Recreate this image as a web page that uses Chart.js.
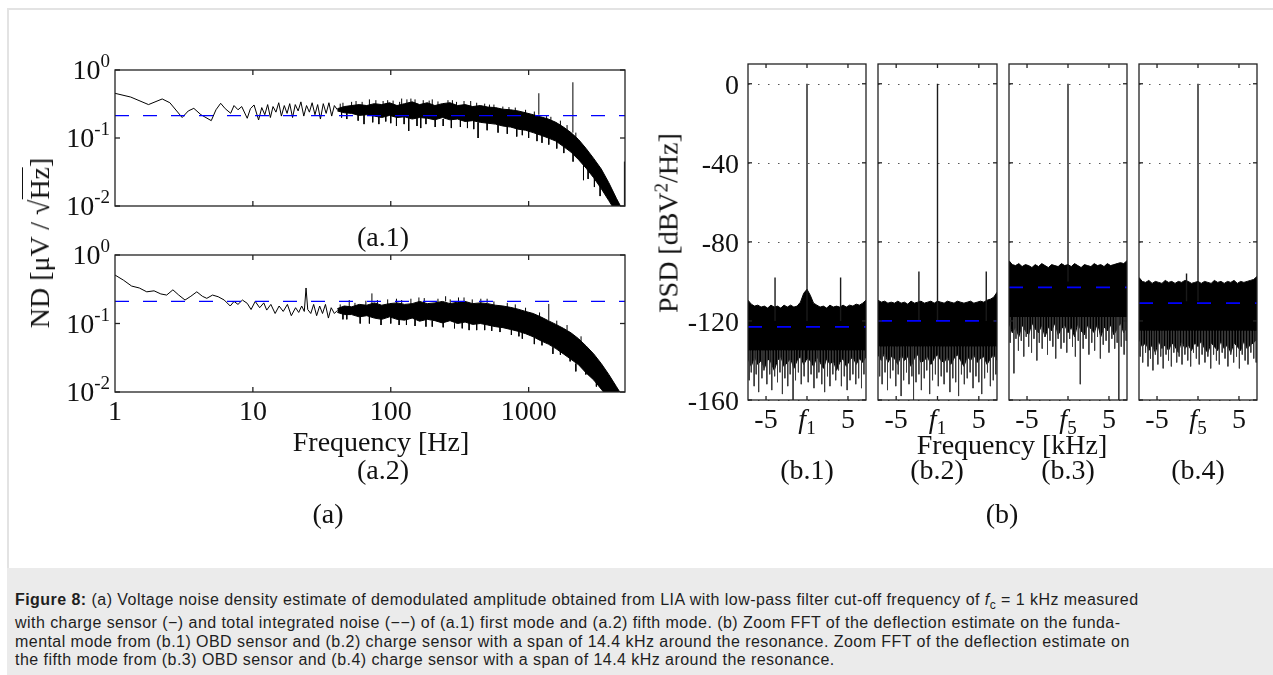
<!DOCTYPE html>
<html>
<head>
<meta charset="utf-8">
<title>Figure 8</title>
<script src="https://cdn.jsdelivr.net/npm/chart.js@4.4.1/dist/chart.umd.min.js"></script>
<style>
html, body { margin: 0; padding: 0; background: #fff; }
#page { position: relative; width: 1273px; height: 675px; overflow: hidden; font-family: 'Liberation Serif', 'Times New Roman', serif; color: #111; }
#frame { position: absolute; left: 7px; top: 8px; width: 1300px; height: 700px; border-left: 2px solid #e3e3e3; border-top: 2px solid #e3e3e3; }
canvas.plot { position: absolute; left: 0; top: 0; }
.lbl { position: absolute; font-size: 28px; white-space: nowrap; line-height: 1; transform: translate(-50%, -50%); }
.rot { transform: translate(-50%, -50%) rotate(-90deg); }
.ovl { border-top: 1.5px solid #111; padding-top: 1px; }
#caption { position: absolute; left: 7px; top: 568px; width: 1266px; height: 107px; background: #ebebeb;
  font-family: 'Liberation Sans', Arial, sans-serif; font-size: 16px; letter-spacing: 0.45px; line-height: 18.3px; color: #1e1e1e; }
#caption .txt { position: absolute; left: 8px; top: 23px; }
#caption .ln { white-space: nowrap; }
</style>
</head>
<body>
<div id="page">
  <div id="frame"></div>

  <canvas id="a1" class="plot" width="1273" height="675"></canvas>
  <canvas id="a2" class="plot" width="1273" height="675"></canvas>
  <canvas id="b1" class="plot" width="1273" height="675"></canvas>
  <canvas id="b2" class="plot" width="1273" height="675"></canvas>
  <canvas id="b3" class="plot" width="1273" height="675"></canvas>
  <canvas id="b4" class="plot" width="1273" height="675"></canvas>

  <div class="lbl rot" style="left:40px; top:243px;">ND [μV / √<span class="ovl">Hz</span>]</div>
  <div class="lbl" style="left:383px; top:237px;">(a.1)</div>
  <div class="lbl" style="left:381px; top:442px;">Frequency [Hz]</div>
  <div class="lbl" style="left:383px; top:470px;">(a.2)</div>
  <div class="lbl" style="left:328px; top:514px;">(a)</div>

  <div class="lbl rot" style="left:667px; top:223px;">PSD [dBV<sup style="font-size:19px; vertical-align:10px;">2</sup>/Hz]</div>
  <div class="lbl" style="left:1012px; top:445px;">Frequency [kHz]</div>
  <div class="lbl" style="left:807px; top:470px;">(b.1)</div>
  <div class="lbl" style="left:937px; top:470px;">(b.2)</div>
  <div class="lbl" style="left:1068px; top:470px;">(b.3)</div>
  <div class="lbl" style="left:1198px; top:470px;">(b.4)</div>
  <div class="lbl" style="left:1002px; top:514px;">(b)</div>

  <div id="caption">
    <div class="txt">
      <div class="ln"><b>Figure 8:</b> (a) Voltage noise density estimate of demodulated amplitude obtained from LIA with low-pass filter cut-off frequency of <i>f</i><sub style="font-size:12px;">c</sub> = 1 kHz measured</div>
      <div class="ln">with charge sensor (&minus;) and total integrated noise (&minus;&minus;) of (a.1) first mode and (a.2) fifth mode. (b) Zoom FFT of the deflection estimate on the funda-</div>
      <div class="ln">mental mode from (b.1) OBD sensor and (b.2) charge sensor with a span of 14.4 kHz around the resonance. Zoom FFT of the deflection estimate on</div>
      <div class="ln">the fifth mode from (b.3) OBD sensor and (b.4) charge sensor with a span of 14.4 kHz around the resonance.</div>
    </div>
  </div>
</div>

<script>
// ---------------- (a) noise density [uV/sqrt(Hz)] vs frequency [Hz] ----------------
const aMinHz = 1, aMaxHz = 5000;
const aTickHz = [10, 100, 1000];
const aLabelHz = [1, 10, 100, 1000];
const aTickND = [0.01, 0.1, 1];

// (a.1) first mode
const a1LowHz = [1, 1.3, 1.75, 2.2, 2.5, 3.07, 3.4, 3.73, 4.2, 4.99, 5.4, 5.84, 6.3, 6.9, 7.3, 7.8, 8.3, 9.1, 9.6, 10.2,
  11, 11.6, 12.2, 12.8, 13.4, 14, 14.7, 15.4, 16.1, 16.9, 17.7, 18.5, 19.4, 20.3, 21.3, 22.3, 23.4, 24.5, 25.7, 26.9,
  28.2, 29.5, 30.9, 32.4, 34, 35.6, 37.3, 39, 41];
const a1LowND = [0.454, 0.40, 0.31, 0.375, 0.33, 0.20, 0.25, 0.273, 0.22, 0.18, 0.26, 0.324, 0.27, 0.231, 0.30, 0.26, 0.29, 0.195, 0.27, 0.306,
  0.184, 0.28, 0.22, 0.31, 0.20, 0.29, 0.24, 0.33, 0.21, 0.30, 0.23, 0.32, 0.20, 0.31, 0.25, 0.34, 0.21, 0.30, 0.24, 0.33,
  0.22, 0.31, 0.19, 0.32, 0.23, 0.33, 0.21, 0.30, 0.26];
const aBandHz = [41, 46, 52, 59, 67, 76, 86, 98, 111, 126, 143, 162, 184, 209, 237, 269, 305, 346, 393, 446,
  506, 574, 651, 739, 838, 951, 1079, 1224, 1389, 1576, 1788, 2029, 2302, 2612, 2964, 3363, 3815, 4329, 4912, 5000];
const a1BandHi = [0.27, 0.29, 0.30, 0.31, 0.30, 0.32, 0.31, 0.33, 0.30, 0.32, 0.34, 0.31, 0.33, 0.30, 0.32, 0.33, 0.30, 0.31, 0.29, 0.30,
  0.285, 0.28, 0.265, 0.26, 0.25, 0.235, 0.22, 0.205, 0.19, 0.17, 0.145, 0.12, 0.095, 0.07, 0.05, 0.035, 0.022, 0.013, 0.008, 0.008];
const a1BandLo = [0.25, 0.235, 0.23, 0.215, 0.22, 0.21, 0.2, 0.215, 0.2, 0.205, 0.19, 0.2, 0.195, 0.185, 0.2, 0.185, 0.19, 0.175, 0.18, 0.17,
  0.165, 0.16, 0.15, 0.145, 0.135, 0.13, 0.12, 0.11, 0.10, 0.09, 0.075, 0.062, 0.048, 0.036, 0.026, 0.018, 0.012, 0.008, 0.006, 0.006];
// single-bin excursions of the noise trace (frequency, band side, tip)
const a1SpikeHz = [45, 52, 70, 95, 120, 150, 200, 280, 380, 560, 800, 1350, 1700, 2200,
  48, 64, 82, 110, 135, 165, 240, 320, 430, 600, 900, 1250, 1600, 2500, 3000,
  1186, 2094, 4950,
  43, 56, 62, 78, 88, 104, 116, 131, 140, 172, 190, 220, 260, 300, 340, 420, 480, 520, 650, 720, 950, 1100, 1450, 1900,
  44, 58, 74, 92, 100, 125, 155, 180, 210, 275, 360, 400, 500, 700, 820, 1000, 1150, 1400, 1800, 2100, 2700, 3300];
const a1SpikeFrom = [0.28, 0.29, 0.3, 0.3, 0.3, 0.32, 0.3, 0.3, 0.29, 0.27, 0.24, 0.18, 0.15, 0.1,
  0.24, 0.22, 0.21, 0.2, 0.2, 0.2, 0.19, 0.19, 0.17, 0.16, 0.14, 0.11, 0.09, 0.04, 0.026,
  0.22, 0.12, 0.01,
  0.26, 0.28, 0.28, 0.29, 0.28, 0.28, 0.28, 0.3, 0.31, 0.29, 0.29, 0.28, 0.3, 0.27, 0.28, 0.27, 0.26, 0.26, 0.24, 0.23, 0.21, 0.2, 0.165, 0.12,
  0.26, 0.24, 0.23, 0.23, 0.23, 0.22, 0.215, 0.215, 0.205, 0.205, 0.195, 0.2, 0.185, 0.165, 0.155, 0.145, 0.135, 0.12, 0.09, 0.07, 0.042, 0.025];
const a1SpikeTo = [0.33, 0.34, 0.37, 0.36, 0.38, 0.37, 0.37, 0.36, 0.35, 0.31, 0.28, 0.21, 0.18, 0.12,
  0.19, 0.16, 0.16, 0.15, 0.127, 0.14, 0.15, 0.145, 0.10, 0.12, 0.11, 0.085, 0.07, 0.024, 0.019,
  0.455, 0.66, 0.045,
  0.32, 0.35, 0.34, 0.36, 0.35, 0.355, 0.34, 0.37, 0.38, 0.36, 0.355, 0.345, 0.36, 0.34, 0.35, 0.33, 0.32, 0.31, 0.29, 0.285, 0.26, 0.245, 0.205, 0.155,
  0.2, 0.18, 0.17, 0.175, 0.165, 0.16, 0.15, 0.16, 0.145, 0.14, 0.14, 0.135, 0.13, 0.115, 0.105, 0.1, 0.09, 0.08, 0.06, 0.045, 0.025, 0.014];
const a1TotalNoise = 0.213;

// (a.2) fifth mode
const a2LowHz = [1, 1.15, 1.32, 1.5, 1.7, 1.92, 2.15, 2.37, 2.63, 2.9, 3.22, 3.55, 3.92, 4.3, 4.63, 5.1, 5.6, 6.2, 6.85, 7.3,
  7.8, 8.4, 9.1, 9.7, 10.4, 11.2, 12, 12.6, 13.5, 14.5, 15.5, 16.6, 17.8, 19, 20.4, 21.5, 22.6, 23.6, 24.3, 25,
  26.3, 27.6, 29, 30.5, 32, 33.6, 35.3, 37, 39, 41];
const a2LowND = [0.51, 0.43, 0.352, 0.33, 0.29, 0.30, 0.27, 0.26, 0.31, 0.26, 0.22, 0.25, 0.29, 0.25, 0.233, 0.26, 0.246, 0.22, 0.18, 0.21,
  0.19, 0.22, 0.197, 0.16, 0.21, 0.17, 0.20, 0.157, 0.19, 0.14, 0.18, 0.15, 0.19, 0.13, 0.17, 0.145, 0.18, 0.15, 0.33, 0.16,
  0.14, 0.19, 0.13, 0.18, 0.14, 0.19, 0.12, 0.17, 0.14, 0.155];
const a2BandHi = [0.165, 0.18, 0.175, 0.19, 0.185, 0.2, 0.185, 0.195, 0.2, 0.19, 0.195, 0.21, 0.195, 0.2, 0.21, 0.195, 0.205, 0.21, 0.195, 0.2,
  0.195, 0.185, 0.18, 0.172, 0.162, 0.15, 0.14, 0.125, 0.11, 0.097, 0.085, 0.073, 0.06, 0.047, 0.036, 0.026, 0.018, 0.012, 0.008, 0.008];
const a2BandLo = [0.145, 0.135, 0.135, 0.125, 0.13, 0.12, 0.115, 0.125, 0.115, 0.112, 0.12, 0.108, 0.115, 0.11, 0.102, 0.11, 0.1, 0.105, 0.097, 0.1,
  0.095, 0.09, 0.087, 0.082, 0.077, 0.071, 0.064, 0.056, 0.05, 0.043, 0.036, 0.03, 0.025, 0.019, 0.015, 0.011, 0.008, 0.006, 0.005, 0.005];
const a2SpikeHz = [50, 73, 110, 160, 250, 340, 500, 800, 1400, 1900,
  45, 60, 85, 130, 200, 290, 420, 620, 900, 1100, 1500, 2200,
  43, 55, 66, 80, 95, 120, 140, 175, 220, 270, 310, 390, 450, 560, 700, 950, 1200, 1600, 2400,
  48, 70, 100, 115, 150, 180, 240, 330, 370, 480, 540, 750, 850, 1250, 1700, 2000, 2600, 3100];
const a2SpikeFrom = [0.17, 0.19, 0.2, 0.2, 0.21, 0.21, 0.2, 0.16, 0.11, 0.08,
  0.14, 0.13, 0.12, 0.115, 0.11, 0.1, 0.1, 0.09, 0.075, 0.065, 0.045, 0.026,
  0.15, 0.155, 0.165, 0.17, 0.17, 0.17, 0.175, 0.18, 0.18, 0.175, 0.185, 0.175, 0.18, 0.165, 0.155, 0.13, 0.11, 0.08, 0.045,
  0.15, 0.14, 0.135, 0.13, 0.13, 0.125, 0.12, 0.115, 0.11, 0.11, 0.105, 0.095, 0.09, 0.065, 0.048, 0.038, 0.024, 0.016];
const a2SpikeTo = [0.22, 0.275, 0.23, 0.24, 0.25, 0.24, 0.23, 0.19, 0.193, 0.095,
  0.115, 0.1, 0.095, 0.095, 0.09, 0.085, 0.08, 0.075, 0.06, 0.05, 0.036, 0.02,
  0.19, 0.2, 0.215, 0.22, 0.225, 0.22, 0.23, 0.235, 0.23, 0.225, 0.24, 0.225, 0.23, 0.21, 0.2, 0.17, 0.145, 0.11, 0.065,
  0.115, 0.1, 0.1, 0.095, 0.092, 0.09, 0.088, 0.085, 0.08, 0.08, 0.078, 0.068, 0.065, 0.048, 0.035, 0.028, 0.018, 0.012];
const a2TotalNoise = 0.21;

// ---------------- (b) PSD [dBV^2/Hz] vs frequency offset [kHz] ----------------
const bMinKHz = -7.2, bMaxKHz = 7.2;
const bMinDb = -160, bMaxDb = 10;
const bTickKHz = [-5, 0, 5];
const bTickDb = [0, -40, -80, -120, -160];
const bKHz = [-7.2, -6.8, -6.4, -6.0, -5.6, -5.2, -4.8, -4.4, -4.0, -3.6, -3.2, -2.8, -2.4, -2.0, -1.6, -1.2, -0.8, -0.4, 0,
  0.4, 0.8, 1.2, 1.6, 2.0, 2.4, 2.8, 3.2, 3.6, 4.0, 4.4, 4.8, 5.2, 5.6, 6.0, 6.4, 6.8, 7.2];

// (b.1) OBD sensor, fundamental mode
const b1Hi = [-109.5, -111.5, -112.5, -112, -113, -112.5, -113.5, -112, -113, -112.5, -113.5, -112, -113, -112, -113, -112.5, -110.5, -106, -104,
  -107, -111, -112, -113, -112.5, -113.5, -112, -113, -112.5, -113, -112, -113, -112, -112.5, -111.5, -112, -111, -109.5];
const b1Lo = [-139, -143, -138, -142, -140, -144, -139, -141, -145, -140, -138, -143, -141, -139, -144, -140, -138, -142, -139,
  -140, -143, -138, -141, -144, -139, -142, -140, -145, -141, -139, -143, -140, -138, -142, -139, -141, -138];
const b1DipKHz = [-7.05, -6.8, -6.45, -6.2, -5.9, -5.5, -5.25, -4.9, -4.55, -4.3, -3.95, -3.6, -3.3, -3.0, -2.7, -2.35, -2.05, -1.7, -1.4, -1.05, -0.7, -0.35,
  0.15, 0.5, 0.85, 1.2, 1.45, 1.8, 2.15, 2.5, 2.8, 3.15, 3.5, 3.85, 4.2, 4.55, 4.9, 5.25, 5.6, 5.95, 6.3, 6.65, 6.95];
const b1DipDb = [-150, -146, -153, -147, -156, -149, -145, -152, -147, -155, -148, -151, -146, -157, -149, -153, -147, -160, -150, -146, -152, -148,
  -151, -147, -154, -149, -146, -152, -156, -148, -153, -147, -150, -145, -153, -148, -155, -150, -147, -152, -149, -154, -147];
const b1PeakKHz = [-3.9, 0, 4.1];
const b1PeakDb = [-98, 0, -98];
const b1Total = -123;

// (b.2) charge sensor, fundamental mode
const b2Hi = [-109.5, -110.5, -110, -111, -110.5, -111, -110, -111, -110.5, -111.5, -110, -111, -110.5, -110, -111, -110.5, -110, -111, -110,
  -110.5, -111, -110, -110.5, -111, -110, -110.5, -111, -110.5, -110, -111, -110.5, -110, -110.5, -109.5, -109, -108, -105.5];
const b2Lo = [-137, -140, -136, -141, -138, -139, -142, -137, -140, -138, -143, -139, -137, -141, -140, -138, -142, -139, -137,
  -140, -141, -138, -142, -139, -137, -140, -143, -138, -140, -137, -141, -139, -138, -142, -139, -137, -140];
const b2DipKHz = [-7.0, -6.7, -6.35, -6.05, -5.7, -5.4, -5.05, -4.75, -4.4, -4.1, -3.75, -3.45, -3.1, -2.9, -2.6, -2.25, -1.95, -1.6, -1.3, -0.95, -0.6, -0.25,
  0.1, 0.45, 0.8, 1.15, 1.5, 1.85, 2.2, 2.55, 2.9, 3.25, 3.6, 3.95, 4.3, 4.65, 5.0, 5.35, 5.7, 6.05, 6.4, 6.75, 7.05];
const b2DipDb = [-148, -152, -146, -155, -149, -145, -153, -147, -158, -150, -146, -152, -148, -160, -151, -147, -155, -149, -145, -157, -150, -147,
  -153, -148, -152, -146, -156, -149, -151, -158, -147, -152, -149, -146, -154, -148, -151, -157, -149, -146, -153, -150, -147];
const b2PeakKHz = [-2.25, 0, 5.9];
const b2PeakDb = [-95, 0, -95];
const b2Total = -120;

// (b.3) OBD sensor, fifth mode
const b3Hi = [-89.5, -91.5, -92, -91, -92.5, -91.5, -92, -93, -91.5, -92.5, -91, -92, -93, -91.5, -92, -92.5, -91, -92, -91.5,
  -92.5, -91, -92, -93, -91.5, -92, -92.5, -91, -92, -91.5, -92.5, -91, -92, -91.5, -91, -90.5, -91, -89.5];
const b3Lo = [-121, -126, -123, -128, -122, -125, -127, -121, -124, -126, -122, -128, -123, -125, -121, -127, -124, -122, -126,
  -123, -128, -121, -125, -127, -122, -124, -126, -121, -128, -123, -125, -122, -127, -124, -121, -126, -123];
const b3DipKHz = [-7.05, -6.6, -6.35, -6.05, -5.7, -5.4, -5.1, -4.8, -4.45, -4.15, -3.8, -3.5, -3.15, -2.85, -2.5, -2.2, -1.85, -1.5, -1.2, -0.85, -0.5, -0.15,
  0.2, 0.55, 0.9, 1.25, 1.5, 1.85, 2.2, 2.55, 2.9, 3.25, 3.6, 3.95, 4.3, 4.65, 5.0, 5.35, 5.7, 6.0, 6.2, 6.5, 6.85, 7.1];
const b3DipDb = [-131, -146.5, -129, -135, -130, -138, -128, -133, -136, -129, -140, -131, -134, -128, -137, -130, -133, -139, -129, -134, -131, -136,
  -129, -133, -138, -130, -152, -134, -129, -137, -131, -135, -128, -139, -132, -130, -136, -129, -134, -131, -160, -133, -137, -130];
const b3PeakKHz = [0];
const b3PeakDb = [0];
const b3Total = -103;

// (b.4) charge sensor, fifth mode
const b4Hi = [-98, -100, -100.5, -99.5, -101, -100, -100.5, -101, -99.5, -100.5, -100, -101, -100, -100.5, -99.5, -100, -101, -100.5, -100,
  -101, -100, -100.5, -101, -99.5, -100.5, -100, -101, -100, -100.5, -99.5, -101, -100, -100.5, -100, -99.5, -99, -97.5];
const b4Lo = [-129, -133, -131, -135, -132, -136, -130, -134, -132, -135, -131, -133, -136, -130, -134, -132, -135, -131, -133,
  -130, -134, -136, -131, -133, -135, -130, -134, -132, -136, -131, -133, -135, -130, -134, -132, -131, -129];
const b4DipKHz = [-7.05, -6.75, -6.4, -6.1, -5.8, -5.5, -5.2, -4.9, -4.55, -4.25, -3.9, -3.6, -3.25, -2.95, -2.6, -2.3, -1.95, -1.6, -1.25, -0.9, -0.55, -0.2,
  0.15, 0.5, 0.85, 1.2, 1.55, 1.9, 2.25, 2.6, 2.95, 3.3, 3.65, 4.0, 4.35, 4.7, 5.05, 5.4, 5.75, 6.1, 6.45, 6.8, 7.1];
const b4DipDb = [-138, -141, -136, -143, -139, -145, -137, -142, -138, -144, -137, -140, -143, -136, -141, -138, -142, -137, -140, -143, -136, -139,
  -142, -137, -141, -138, -144, -137, -140, -142, -136, -139, -143, -137, -141, -138, -144, -137, -140, -142, -136, -139, -141];
const b4PeakKHz = [-1.4, 0];
const b4PeakDb = [-96, 0];
const b4Total = -111;

// ---------------- drawing ----------------
const W = 1273, H = 675;
const SERIF = "'Liberation Serif', 'Times New Roman', serif";
const INK = '#000';
const BLUE = '#0000ff';

function pairs(xs, ys) {
    return xs.map((x, i) => ({ x, y: ys[i] }));
}

// vertical segments, broken by null points
function seg(xs, from, to) {
    const pts = [];
    xs.forEach((x, i) => {
        const f = Array.isArray(from) ? from[i] : from;
        pts.push({ x, y: f }, { x, y: to[i] }, { x, y: null });
    });
    return pts;
}

function line(data, color, width, dash) {
    return {
        data,
        borderColor: color,
        borderWidth: width,
        borderDash: dash || [],
        pointRadius: 0,
        fill: false,
        spanGaps: false,
        clip: 0
    };
}

function band(xs, hi, lo) {
    return [
        line(pairs(xs, hi), INK, 1),
        Object.assign(line(pairs(xs, lo), INK, 1), { fill: '-1', backgroundColor: INK })
    ];
}

// label parts: [text, kind] with kind n | i | sup | sub
function drawRich(ctx, parts, x, y, align) {
    const fontOf = k => {
        if (k === 'sup' || k === 'sub') return '19px ' + SERIF;
        if (k === 'i') return 'italic 28px ' + SERIF;
        return '28px ' + SERIF;
    };
    let total = 0;
    const widths = parts.map(p => {
        ctx.font = fontOf(p[1]);
        const w = ctx.measureText(p[0]).width;
        total += w;
        return w;
    });
    let cx = align === 'right' ? x - total : align === 'center' ? x - total / 2 : x;
    ctx.textAlign = 'left';
    ctx.textBaseline = 'alphabetic';
    parts.forEach((p, i) => {
        ctx.font = fontOf(p[1]);
        const dy = p[1] === 'sup' ? -12 : p[1] === 'sub' ? 6 : 0;
        ctx.fillText(p[0], cx, y + dy);
        cx += widths[i];
    });
}

function strokeLine(ctx, x0, y0, x1, y1) {
    ctx.beginPath();
    ctx.moveTo(x0, y0);
    ctx.lineTo(x1, y1);
    ctx.stroke();
}

// MATLAB style box: inward ticks on all four sides, optional dotted y grid
const matlabAxes = {
    id: 'matlabAxes',
    beforeDatasetsDraw(chart, args, o) {
        if (!o.gridY) return;
        const { ctx, chartArea: a, scales: { y } } = chart;
        ctx.save();
        ctx.strokeStyle = '#555';
        ctx.lineWidth = 1;
        ctx.setLineDash([1.5, 8.5]);
        o.yTicks.forEach(v => {
            const py = Math.round(y.getPixelForValue(v)) + 0.5;
            strokeLine(ctx, a.left, py, a.right, py);
        });
        ctx.restore();
    },
    afterDatasetsDraw(chart, args, o) {
        const { ctx, chartArea: a, scales: { x, y } } = chart;
        ctx.save();
        ctx.strokeStyle = '#222';
        ctx.lineWidth = 1.3;
        ctx.strokeRect(a.left, a.top, a.right - a.left, a.bottom - a.top);
        const L = o.tickLen;
        o.xTicks.forEach(v => {
            const px = x.getPixelForValue(v);
            strokeLine(ctx, px, a.bottom, px, a.bottom - L);
            strokeLine(ctx, px, a.top, px, a.top + L);
        });
        o.yTicks.forEach(v => {
            const py = y.getPixelForValue(v);
            strokeLine(ctx, a.left, py, a.left + L, py);
            strokeLine(ctx, a.right, py, a.right - L, py);
        });
        ctx.fillStyle = '#111';
        if (o.xLabels) {
            o.xLabelAt.forEach((v, i) => drawRich(ctx, o.xLabels[i], x.getPixelForValue(v), a.bottom + o.xLabelDy, 'center'));
        }
        if (o.yLabels) {
            o.yTicks.forEach((v, i) => drawRich(ctx, o.yLabels[i], a.left - o.yLabelDx, y.getPixelForValue(v) + o.yLabelDy, 'right'));
        }
        ctx.restore();
    }
};

function makePanel(id, area, xScale, yScale, datasets, axes) {
    return new Chart(document.getElementById(id), {
        type: 'line',
        data: { datasets },
        options: {
            responsive: false,
            animation: false,
            devicePixelRatio: 1,
            events: [],
            layout: { padding: { left: area[0], top: area[1], right: W - area[2], bottom: H - area[3] } },
            scales: {
                x: Object.assign({ display: false }, xScale),
                y: Object.assign({ display: false }, yScale)
            },
            elements: { line: { tension: 0 }, point: { radius: 0 } },
            plugins: { legend: { display: false }, tooltip: { enabled: false }, matlabAxes: axes }
        },
        plugins: [matlabAxes]
    });
}

// (a) panels
const aX = { type: 'logarithmic', min: aMinHz, max: aMaxHz };
const aY = { type: 'logarithmic', min: 0.01, max: 1 };
const aYLabels = [[['10', 'n'], ['-2', 'sup']], [['10', 'n'], ['-1', 'sup']], [['10', 'n'], ['0', 'sup']]];

function aSets(lowHz, lowND, hi, lo, spHz, spFrom, spTo, total) {
    return [
        line(pairs([aMinHz, aMaxHz], [total, total]), BLUE, 1.3, [14, 14]),
        line(seg(spHz, spFrom, spTo), INK, 1),
        line(pairs(lowHz, lowND), INK, 1),
        ...band(aBandHz, hi, lo)
    ];
}

makePanel('a1', [115, 70, 625, 206], aX, aY,
    aSets(a1LowHz, a1LowND, a1BandHi, a1BandLo, a1SpikeHz, a1SpikeFrom, a1SpikeTo, a1TotalNoise),
    { xTicks: aTickHz, yTicks: aTickND, tickLen: 5, yLabels: aYLabels, yLabelDx: 5, yLabelDy: 9 });

makePanel('a2', [115, 255, 625, 392], aX, aY,
    aSets(a2LowHz, a2LowND, a2BandHi, a2BandLo, a2SpikeHz, a2SpikeFrom, a2SpikeTo, a2TotalNoise),
    { xTicks: aTickHz, yTicks: aTickND, tickLen: 5, yLabels: aYLabels, yLabelDx: 5, yLabelDy: 9,
      xLabelAt: aLabelHz, xLabels: aLabelHz.map(v => [[String(v), 'n']]), xLabelDy: 28 });

// (b) panels
const bX = { type: 'linear', min: bMinKHz, max: bMaxKHz };
const bY = { type: 'linear', min: bMinDb, max: bMaxDb };

function bSets(hi, lo, dipKHz, dipFrom, dipDb, peakKHz, peakFrom, peakDb, total) {
    return [
        line(pairs([bMinKHz, bMaxKHz], [total, total]), BLUE, 1.8, [14, 15]),
        line(seg(peakKHz, peakFrom, peakDb), '#1a1a1a', 1.4),
        line(seg(dipKHz, dipFrom, dipDb), '#3a3a3a', 1),
        ...band(bKHz, hi, lo)
    ];
}

function bAxes(mode, withY) {
    const o = {
        xTicks: bTickKHz, yTicks: bTickDb, tickLen: 4, gridY: true,
        xLabelAt: bTickKHz, xLabels: [[['-5', 'n']], [['f', 'i'], [mode, 'sub']], [['5', 'n']]], xLabelDy: 28
    };
    if (withY) {
        o.yLabels = bTickDb.map(v => [[String(v), 'n']]);
        o.yLabelDx = 9;
        o.yLabelDy = 10;
    }
    return o;
}

makePanel('b1', [748, 64, 866, 400], bX, bY,
    bSets(b1Hi, b1Lo, b1DipKHz, -135, b1DipDb, b1PeakKHz, -120, b1PeakDb, b1Total), bAxes('1', true));
makePanel('b2', [878, 64, 997, 400], bX, bY,
    bSets(b2Hi, b2Lo, b2DipKHz, -133, b2DipDb, b2PeakKHz, -120, b2PeakDb, b2Total), bAxes('1', false));
makePanel('b3', [1009, 64, 1127, 400], bX, bY,
    bSets(b3Hi, b3Lo, b3DipKHz, -118, b3DipDb, b3PeakKHz, -100, b3PeakDb, b3Total), bAxes('5', false));
makePanel('b4', [1139, 64, 1257, 400], bX, bY,
    bSets(b4Hi, b4Lo, b4DipKHz, -125, b4DipDb, b4PeakKHz, -110, b4PeakDb, b4Total), bAxes('5', false));
</script>
</body>
</html>
